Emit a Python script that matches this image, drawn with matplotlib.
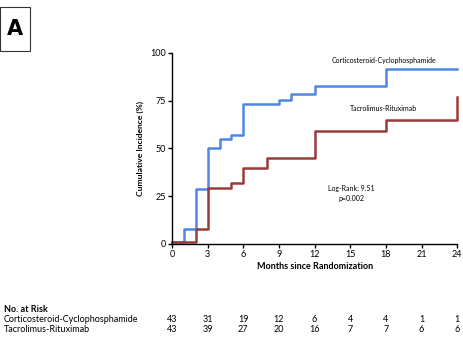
import matplotlib
matplotlib.use("Agg")
import matplotlib.pyplot as plt
from matplotlib.patches import Rectangle

plt.rcParams["font.family"] = ["Lato", "DejaVu Sans"]

# step curves (month of step, cumulative incidence after step)
cc_months = [0, 1, 2, 3, 4, 5, 6, 9, 10, 12, 18, 24]
cc_values = [1, 8, 29, 50, 55, 57, 73, 75.5, 78.5, 82.5, 91.5, 91.5]
tr_months = [0, 2, 3, 5, 6, 8, 12, 18, 24]
tr_values = [1, 8, 29.5, 32, 40, 45, 59, 65, 77]

risk_months = [0, 3, 6, 9, 12, 15, 18, 21, 24]
risk_cc = [43, 31, 19, 12, 6, 4, 4, 1, 1]
risk_tr = [43, 39, 27, 20, 16, 7, 7, 6, 6]

blue = "#4f86e6"
red = "#9a3b3b"

fig = plt.figure(figsize=(4.63, 3.48), dpi=100)
ax = fig.add_axes([0.3715, 0.299, 0.616, 0.549])

ax.step(cc_months, cc_values, where="post", color=blue, lw=1.8, clip_on=False)
ax.step(tr_months, tr_values, where="post", color=red, lw=1.8, clip_on=False)

ax.set_xlim(0, 24)
ax.set_ylim(0, 100)
ax.set_xticks(risk_months)
ax.set_yticks([0, 25, 50, 75, 100])
for s in ["top", "right"]:
    ax.spines[s].set_visible(False)
for s in ["left", "bottom"]:
    ax.spines[s].set_linewidth(1.0)
ax.tick_params(direction="out", length=3, width=1, labelsize=6.5, pad=1.5)
ax.set_xlabel("Months since Randomization", fontsize=6.5, fontweight="bold", labelpad=2)
ax.set_ylabel("Cumulative Incidence (%)", fontsize=6.1, fontweight="bold", labelpad=4)

ax.text(17.8, 96, "Corticosteroid-Cyclophosphamide", fontsize=5.0, ha="center", va="center")
ax.text(17.8, 71, "Tacrolimus-Rituximab", fontsize=5.0, ha="center", va="center")
ax.text(15.1, 29, "Log-Rank: 9.51", fontsize=5.0, ha="center", va="center")
ax.text(15.1, 24, "p=0.002", fontsize=5.0, ha="center", va="center")

# panel label
fig.patches.append(Rectangle((0, 1 - 51 / 348), 30 / 463, 44 / 348,
                             transform=fig.transFigure, fill=False,
                             edgecolor="#333333", lw=0.8))
fig.text(15 / 463, 1 - 29 / 348, "A", fontsize=15, fontweight="bold",
         ha="center", va="center", family="DejaVu Sans")

# number at risk table
fig.text(4 / 463, 1 - 309 / 348, "No. at Risk", fontsize=6.5, fontweight="bold", va="center")
fig.text(4 / 463, 1 - 320 / 348, "Corticosteroid-Cyclophosphamide", fontsize=6.5, va="center")
fig.text(4 / 463, 1 - 330 / 348, "Tacrolimus-Rituximab", fontsize=6.5, va="center")
for m, a, b in zip(risk_months, risk_cc, risk_tr):
    x = ax.transData.transform((m, 0))[0] / fig.bbox.width
    fig.text(x, 1 - 320 / 348, str(a), fontsize=6.5, ha="center", va="center")
    fig.text(x, 1 - 330 / 348, str(b), fontsize=6.5, ha="center", va="center")

fig.savefig("out.png", dpi=100)
